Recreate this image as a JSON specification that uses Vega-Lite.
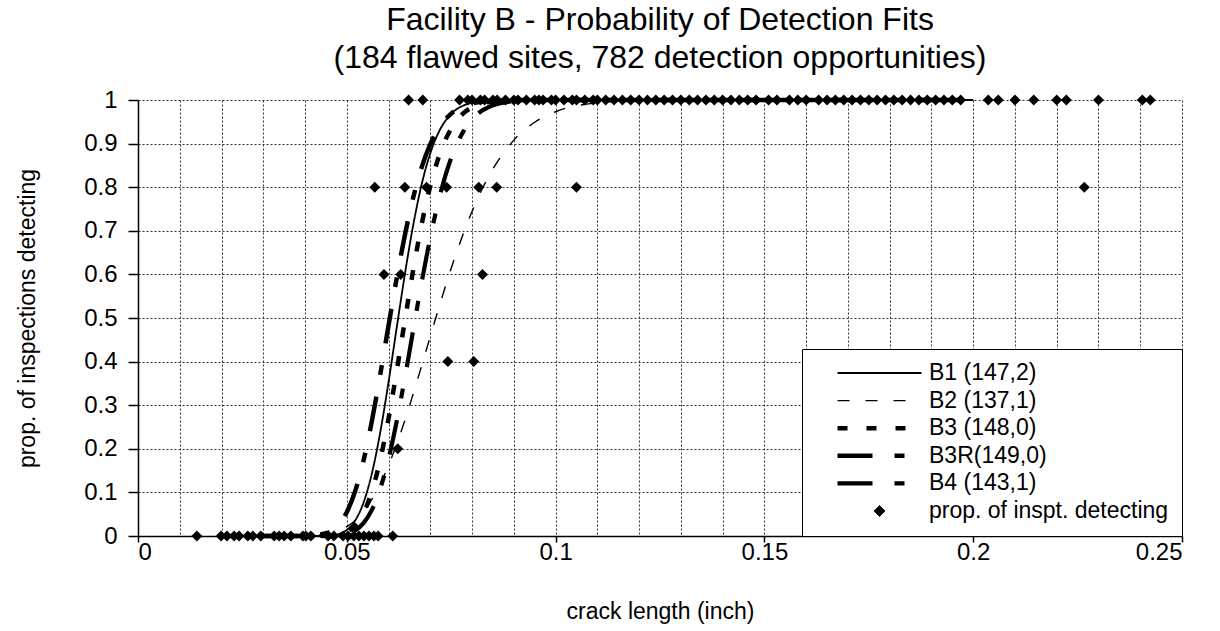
{
  "$schema": "https://vega.github.io/schema/vega-lite/v6.json",
  "width": 1044,
  "height": 436,
  "autosize": {"type": "none"},
  "padding": {"left": 138, "top": 100, "right": 38, "bottom": 95},
  "background": "white",
  "title": {
    "text": ["Facility B - Probability of Detection Fits", "(184 flawed sites, 782 detection opportunities)"],
    "fontSize": 32,
    "fontWeight": "normal",
    "font": "Liberation Sans",
    "color": "black",
    "lineHeight": 38,
    "anchor": "middle",
    "offset": 13
  },
  "datasets": {
    "curves": [
      {"series": "B1 (147,2)", "x": 0.030, "y": 0},
      {"series": "B1 (147,2)", "x": 0.040, "y": 0},
      {"series": "B1 (147,2)", "x": 0.045, "y": 0.0006},
      {"series": "B1 (147,2)", "x": 0.048, "y": 0.0046},
      {"series": "B1 (147,2)", "x": 0.050, "y": 0.0139},
      {"series": "B1 (147,2)", "x": 0.052, "y": 0.0354},
      {"series": "B1 (147,2)", "x": 0.054, "y": 0.0764},
      {"series": "B1 (147,2)", "x": 0.056, "y": 0.1432},
      {"series": "B1 (147,2)", "x": 0.058, "y": 0.2373},
      {"series": "B1 (147,2)", "x": 0.060, "y": 0.3535},
      {"series": "B1 (147,2)", "x": 0.062, "y": 0.4809},
      {"series": "B1 (147,2)", "x": 0.064, "y": 0.606},
      {"series": "B1 (147,2)", "x": 0.066, "y": 0.718},
      {"series": "B1 (147,2)", "x": 0.068, "y": 0.8095},
      {"series": "B1 (147,2)", "x": 0.070, "y": 0.878},
      {"series": "B1 (147,2)", "x": 0.072, "y": 0.926},
      {"series": "B1 (147,2)", "x": 0.075, "y": 0.9682},
      {"series": "B1 (147,2)", "x": 0.078, "y": 0.9877},
      {"series": "B1 (147,2)", "x": 0.081, "y": 0.9957},
      {"series": "B1 (147,2)", "x": 0.085, "y": 0.9991},
      {"series": "B1 (147,2)", "x": 0.090, "y": 0.9999},
      {"series": "B1 (147,2)", "x": 0.095, "y": 1},
      {"series": "B1 (147,2)", "x": 0.120, "y": 1},
      {"series": "B1 (147,2)", "x": 0.160, "y": 1},
      {"series": "B1 (147,2)", "x": 0.200, "y": 1},
      {"series": "B2 (137,1)", "x": 0.030, "y": 0},
      {"series": "B2 (137,1)", "x": 0.040, "y": 0.0005},
      {"series": "B2 (137,1)", "x": 0.045, "y": 0.0043},
      {"series": "B2 (137,1)", "x": 0.048, "y": 0.0119},
      {"series": "B2 (137,1)", "x": 0.050, "y": 0.0213},
      {"series": "B2 (137,1)", "x": 0.052, "y": 0.0356},
      {"series": "B2 (137,1)", "x": 0.054, "y": 0.0561},
      {"series": "B2 (137,1)", "x": 0.056, "y": 0.0837},
      {"series": "B2 (137,1)", "x": 0.058, "y": 0.119},
      {"series": "B2 (137,1)", "x": 0.060, "y": 0.162},
      {"series": "B2 (137,1)", "x": 0.062, "y": 0.212},
      {"series": "B2 (137,1)", "x": 0.064, "y": 0.268},
      {"series": "B2 (137,1)", "x": 0.066, "y": 0.329},
      {"series": "B2 (137,1)", "x": 0.068, "y": 0.393},
      {"series": "B2 (137,1)", "x": 0.070, "y": 0.458},
      {"series": "B2 (137,1)", "x": 0.072, "y": 0.522},
      {"series": "B2 (137,1)", "x": 0.075, "y": 0.614},
      {"series": "B2 (137,1)", "x": 0.078, "y": 0.696},
      {"series": "B2 (137,1)", "x": 0.081, "y": 0.767},
      {"series": "B2 (137,1)", "x": 0.085, "y": 0.842},
      {"series": "B2 (137,1)", "x": 0.090, "y": 0.908},
      {"series": "B2 (137,1)", "x": 0.095, "y": 0.949},
      {"series": "B2 (137,1)", "x": 0.100, "y": 0.973},
      {"series": "B2 (137,1)", "x": 0.110, "y": 0.9934},
      {"series": "B2 (137,1)", "x": 0.120, "y": 0.9985},
      {"series": "B2 (137,1)", "x": 0.140, "y": 0.9999},
      {"series": "B2 (137,1)", "x": 0.170, "y": 1},
      {"series": "B2 (137,1)", "x": 0.200, "y": 1},
      {"series": "B3 (148,0)", "x": 0.030, "y": 0},
      {"series": "B3 (148,0)", "x": 0.040, "y": 0},
      {"series": "B3 (148,0)", "x": 0.045, "y": 0.0004},
      {"series": "B3 (148,0)", "x": 0.048, "y": 0.0031},
      {"series": "B3 (148,0)", "x": 0.050, "y": 0.0094},
      {"series": "B3 (148,0)", "x": 0.052, "y": 0.024},
      {"series": "B3 (148,0)", "x": 0.054, "y": 0.0528},
      {"series": "B3 (148,0)", "x": 0.056, "y": 0.1018},
      {"series": "B3 (148,0)", "x": 0.058, "y": 0.1743},
      {"series": "B3 (148,0)", "x": 0.060, "y": 0.2695},
      {"series": "B3 (148,0)", "x": 0.062, "y": 0.3813},
      {"series": "B3 (148,0)", "x": 0.064, "y": 0.5},
      {"series": "B3 (148,0)", "x": 0.066, "y": 0.6154},
      {"series": "B3 (148,0)", "x": 0.068, "y": 0.7184},
      {"series": "B3 (148,0)", "x": 0.070, "y": 0.8032},
      {"series": "B3 (148,0)", "x": 0.072, "y": 0.869},
      {"series": "B3 (148,0)", "x": 0.075, "y": 0.9345},
      {"series": "B3 (148,0)", "x": 0.078, "y": 0.9703},
      {"series": "B3 (148,0)", "x": 0.081, "y": 0.9876},
      {"series": "B3 (148,0)", "x": 0.085, "y": 0.9966},
      {"series": "B3 (148,0)", "x": 0.090, "y": 0.9994},
      {"series": "B3 (148,0)", "x": 0.095, "y": 1},
      {"series": "B3 (148,0)", "x": 0.120, "y": 1},
      {"series": "B3 (148,0)", "x": 0.160, "y": 1},
      {"series": "B3 (148,0)", "x": 0.200, "y": 1},
      {"series": "B3R(149,0)", "x": 0.030, "y": 0},
      {"series": "B3R(149,0)", "x": 0.040, "y": 0.0002},
      {"series": "B3R(149,0)", "x": 0.045, "y": 0.0062},
      {"series": "B3R(149,0)", "x": 0.048, "y": 0.0256},
      {"series": "B3R(149,0)", "x": 0.050, "y": 0.0547},
      {"series": "B3R(149,0)", "x": 0.052, "y": 0.1028},
      {"series": "B3R(149,0)", "x": 0.054, "y": 0.1726},
      {"series": "B3R(149,0)", "x": 0.056, "y": 0.2636},
      {"series": "B3R(149,0)", "x": 0.058, "y": 0.3699},
      {"series": "B3R(149,0)", "x": 0.060, "y": 0.4829},
      {"series": "B3R(149,0)", "x": 0.062, "y": 0.594},
      {"series": "B3R(149,0)", "x": 0.064, "y": 0.6944},
      {"series": "B3R(149,0)", "x": 0.066, "y": 0.78},
      {"series": "B3R(149,0)", "x": 0.068, "y": 0.8478},
      {"series": "B3R(149,0)", "x": 0.070, "y": 0.8987},
      {"series": "B3R(149,0)", "x": 0.072, "y": 0.9351},
      {"series": "B3R(149,0)", "x": 0.075, "y": 0.9688},
      {"series": "B3R(149,0)", "x": 0.078, "y": 0.9861},
      {"series": "B3R(149,0)", "x": 0.081, "y": 0.9942},
      {"series": "B3R(149,0)", "x": 0.085, "y": 0.9983},
      {"series": "B3R(149,0)", "x": 0.090, "y": 0.9997},
      {"series": "B3R(149,0)", "x": 0.095, "y": 1},
      {"series": "B3R(149,0)", "x": 0.120, "y": 1},
      {"series": "B3R(149,0)", "x": 0.160, "y": 1},
      {"series": "B3R(149,0)", "x": 0.200, "y": 1},
      {"series": "B4 (143,1)", "x": 0.030, "y": 0},
      {"series": "B4 (143,1)", "x": 0.040, "y": 0},
      {"series": "B4 (143,1)", "x": 0.045, "y": 0.0002},
      {"series": "B4 (143,1)", "x": 0.048, "y": 0.0015},
      {"series": "B4 (143,1)", "x": 0.050, "y": 0.0048},
      {"series": "B4 (143,1)", "x": 0.052, "y": 0.0128},
      {"series": "B4 (143,1)", "x": 0.054, "y": 0.0295},
      {"series": "B4 (143,1)", "x": 0.056, "y": 0.0598},
      {"series": "B4 (143,1)", "x": 0.058, "y": 0.1083},
      {"series": "B4 (143,1)", "x": 0.060, "y": 0.1772},
      {"series": "B4 (143,1)", "x": 0.062, "y": 0.2655},
      {"series": "B4 (143,1)", "x": 0.064, "y": 0.368},
      {"series": "B4 (143,1)", "x": 0.066, "y": 0.4777},
      {"series": "B4 (143,1)", "x": 0.068, "y": 0.586},
      {"series": "B4 (143,1)", "x": 0.070, "y": 0.6848},
      {"series": "B4 (143,1)", "x": 0.072, "y": 0.77},
      {"series": "B4 (143,1)", "x": 0.075, "y": 0.8668},
      {"series": "B4 (143,1)", "x": 0.078, "y": 0.9292},
      {"series": "B4 (143,1)", "x": 0.081, "y": 0.9652},
      {"series": "B4 (143,1)", "x": 0.085, "y": 0.9879},
      {"series": "B4 (143,1)", "x": 0.090, "y": 0.9973},
      {"series": "B4 (143,1)", "x": 0.095, "y": 0.9995},
      {"series": "B4 (143,1)", "x": 0.100, "y": 1},
      {"series": "B4 (143,1)", "x": 0.140, "y": 1},
      {"series": "B4 (143,1)", "x": 0.200, "y": 1}
    ],
    "obs": [
      {"x": 0.0141, "y": 0}, {"x": 0.0199, "y": 0}, {"x": 0.0213, "y": 0}, {"x": 0.0230, "y": 0},
      {"x": 0.0242, "y": 0}, {"x": 0.0263, "y": 0}, {"x": 0.0275, "y": 0}, {"x": 0.0294, "y": 0},
      {"x": 0.0326, "y": 0}, {"x": 0.0338, "y": 0}, {"x": 0.0350, "y": 0}, {"x": 0.0366, "y": 0},
      {"x": 0.0395, "y": 0}, {"x": 0.0402, "y": 0}, {"x": 0.0414, "y": 0}, {"x": 0.0455, "y": 0},
      {"x": 0.0469, "y": 0}, {"x": 0.0491, "y": 0}, {"x": 0.0503, "y": 0}, {"x": 0.0517, "y": 0},
      {"x": 0.0529, "y": 0}, {"x": 0.0541, "y": 0}, {"x": 0.0553, "y": 0}, {"x": 0.0565, "y": 0},
      {"x": 0.0575, "y": 0}, {"x": 0.0610, "y": 0},
      {"x": 0.0622, "y": 0.2},
      {"x": 0.0742, "y": 0.4}, {"x": 0.0804, "y": 0.4},
      {"x": 0.0589, "y": 0.6}, {"x": 0.0629, "y": 0.6}, {"x": 0.0825, "y": 0.6},
      {"x": 0.0567, "y": 0.8}, {"x": 0.0639, "y": 0.8}, {"x": 0.0691, "y": 0.8}, {"x": 0.0739, "y": 0.8},
      {"x": 0.0816, "y": 0.8}, {"x": 0.0859, "y": 0.8}, {"x": 0.1050, "y": 0.8}, {"x": 0.2266, "y": 0.8},
      {"x": 0.0648, "y": 1}, {"x": 0.0682, "y": 1},
      {"x": 0.077, "y": 1}, {"x": 0.079, "y": 1}, {"x": 0.080, "y": 1}, {"x": 0.082, "y": 1},
      {"x": 0.083, "y": 1}, {"x": 0.085, "y": 1}, {"x": 0.086, "y": 1}, {"x": 0.088, "y": 1},
      {"x": 0.090, "y": 1}, {"x": 0.091, "y": 1}, {"x": 0.093, "y": 1}, {"x": 0.095, "y": 1},
      {"x": 0.096, "y": 1}, {"x": 0.097, "y": 1}, {"x": 0.099, "y": 1}, {"x": 0.100, "y": 1},
      {"x": 0.102, "y": 1}, {"x": 0.104, "y": 1}, {"x": 0.105, "y": 1}, {"x": 0.107, "y": 1},
      {"x": 0.109, "y": 1}, {"x": 0.110, "y": 1}, {"x": 0.112, "y": 1}, {"x": 0.114, "y": 1},
      {"x": 0.116, "y": 1}, {"x": 0.118, "y": 1}, {"x": 0.120, "y": 1}, {"x": 0.122, "y": 1},
      {"x": 0.124, "y": 1}, {"x": 0.126, "y": 1}, {"x": 0.128, "y": 1}, {"x": 0.130, "y": 1},
      {"x": 0.132, "y": 1}, {"x": 0.134, "y": 1}, {"x": 0.136, "y": 1}, {"x": 0.138, "y": 1},
      {"x": 0.140, "y": 1}, {"x": 0.142, "y": 1}, {"x": 0.144, "y": 1}, {"x": 0.146, "y": 1},
      {"x": 0.148, "y": 1}, {"x": 0.151, "y": 1}, {"x": 0.153, "y": 1}, {"x": 0.156, "y": 1},
      {"x": 0.158, "y": 1}, {"x": 0.160, "y": 1}, {"x": 0.163, "y": 1}, {"x": 0.165, "y": 1},
      {"x": 0.167, "y": 1}, {"x": 0.169, "y": 1}, {"x": 0.171, "y": 1}, {"x": 0.173, "y": 1},
      {"x": 0.175, "y": 1}, {"x": 0.177, "y": 1}, {"x": 0.179, "y": 1}, {"x": 0.181, "y": 1},
      {"x": 0.183, "y": 1}, {"x": 0.185, "y": 1}, {"x": 0.187, "y": 1}, {"x": 0.189, "y": 1},
      {"x": 0.191, "y": 1}, {"x": 0.193, "y": 1}, {"x": 0.195, "y": 1}, {"x": 0.197, "y": 1},
      {"x": 0.2036, "y": 1}, {"x": 0.2060, "y": 1}, {"x": 0.2100, "y": 1}, {"x": 0.2145, "y": 1},
      {"x": 0.2200, "y": 1}, {"x": 0.2223, "y": 1}, {"x": 0.2300, "y": 1}, {"x": 0.2405, "y": 1},
      {"x": 0.2424, "y": 1}
    ]
  },
  "layer": [
    {
      "data": {"name": "curves"},
      "mark": {"type": "line", "interpolate": "monotone", "strokeCap": "butt"},
      "encoding": {
        "x": {
          "field": "x", "type": "quantitative",
          "scale": {"domain": [0, 0.25], "nice": false, "zero": false},
          "axis": {
            "title": "crack length (inch)",
            "values": [0, 0.01, 0.02, 0.03, 0.04, 0.05, 0.06, 0.07, 0.08, 0.09, 0.1, 0.11, 0.12, 0.13, 0.14, 0.15, 0.16, 0.17, 0.18, 0.19, 0.2, 0.21, 0.22, 0.23, 0.24, 0.25],
            "labelExpr": "abs(datum.value*20 - round(datum.value*20)) < 0.001 ? format(datum.value, '~g') : ''",
            "labelOverlap": false,
            "labelPadding": -2,
            "tickSize": 6,
            "tickOpacity": {"condition": {"test": "abs(datum.value*20 - round(datum.value*20)) < 0.001", "value": 1}, "value": 0},
            "titlePadding": 36
          }
        },
        "y": {
          "field": "y", "type": "quantitative",
          "scale": {"domain": [0, 1], "nice": false},
          "axis": {
            "title": "prop. of inspections detecting",
            "values": [0, 0.1, 0.2, 0.3, 0.4, 0.5, 0.6, 0.7, 0.8, 0.9, 1],
            "format": "~g",
            "tickSize": 10,
            "labelPadding": 11,
            "titlePadding": 44
          }
        },
        "strokeDash": {
          "field": "series", "type": "nominal",
          "scale": {
            "domain": ["B1 (147,2)", "B2 (137,1)", "B3 (148,0)", "B3R(149,0)", "B4 (143,1)", "prop. of inspt. detecting"],
            "range": [[1, 0], [12, 16], [10, 19], [35, 22, 10, 22], [35, 22, 10, 22], [1, 0]]
          },
          "legend": {"title": null}
        },
        "strokeWidth": {
          "field": "series", "type": "nominal",
          "scale": {
            "type": "ordinal",
            "domain": ["B1 (147,2)", "B2 (137,1)", "B3 (148,0)", "B3R(149,0)", "B4 (143,1)", "prop. of inspt. detecting"],
            "range": [1.8, 1.4, 4.5, 4.5, 4.2, 1]
          },
          "legend": {"title": null}
        },
        "stroke": {
          "field": "series", "type": "nominal",
          "scale": {
            "domain": ["B1 (147,2)", "B2 (137,1)", "B3 (148,0)", "B3R(149,0)", "B4 (143,1)", "prop. of inspt. detecting"],
            "range": ["black", "black", "black", "black", "black", "black"]
          },
          "legend": {"title": null}
        }
      }
    },
    {
      "data": {"name": "obs"},
      "transform": [{"calculate": "'prop. of inspt. detecting'", "as": "series"}],
      "mark": {"type": "point", "filled": true, "opacity": 1, "strokeWidth": 0},
      "encoding": {
        "x": {"field": "x", "type": "quantitative"},
        "y": {"field": "y", "type": "quantitative"},
        "shape": {
          "field": "series", "type": "nominal",
          "scale": {
            "domain": ["B1 (147,2)", "B2 (137,1)", "B3 (148,0)", "B3R(149,0)", "B4 (143,1)", "prop. of inspt. detecting"],
            "range": ["stroke", "stroke", "stroke", "stroke", "stroke", "diamond"]
          },
          "legend": {"title": null}
        },
        "size": {
          "field": "series", "type": "nominal",
          "scale": {
            "type": "ordinal",
            "domain": ["B1 (147,2)", "B2 (137,1)", "B3 (148,0)", "B3R(149,0)", "B4 (143,1)", "prop. of inspt. detecting"],
            "range": [7056, 7056, 7056, 7056, 7056, 120]
          },
          "legend": {"title": null}
        },
        "fill": {
          "field": "series", "type": "nominal",
          "scale": {
            "domain": ["B1 (147,2)", "B2 (137,1)", "B3 (148,0)", "B3R(149,0)", "B4 (143,1)", "prop. of inspt. detecting"],
            "range": ["black", "black", "black", "black", "black", "black"]
          },
          "legend": {"title": null}
        }
      }
    }
  ],
  "config": {
    "font": "Liberation Sans",
    "view": {"stroke": null},
    "axis": {
      "domainColor": "black",
      "domainWidth": 1.5,
      "tickColor": "black",
      "tickWidth": 1.5,
      "grid": true,
      "gridColor": "#333333",
      "gridDash": [2, 2],
      "gridWidth": 1,
      "labelFont": "Liberation Sans",
      "labelFontSize": 24,
      "labelColor": "black",
      "titleFont": "Liberation Sans",
      "titleFontSize": 23,
      "titleFontWeight": "normal",
      "titleColor": "black"
    },
    "legend": {
      "orient": "bottom-right",
      "offset": 0,
      "padding": 13,
      "symbolOffset": 20,
      "labelOffset": 5,
      "clipHeight": 22,
      "rowPadding": 4.6,
      "labelFont": "Liberation Sans",
      "labelFontSize": 23,
      "labelColor": "black",
      "labelLimit": 400,
      "strokeColor": "black",
      "fillColor": "white",
      "symbolStrokeColor": "black",
      "symbolFillColor": "black"
    }
  }
}
